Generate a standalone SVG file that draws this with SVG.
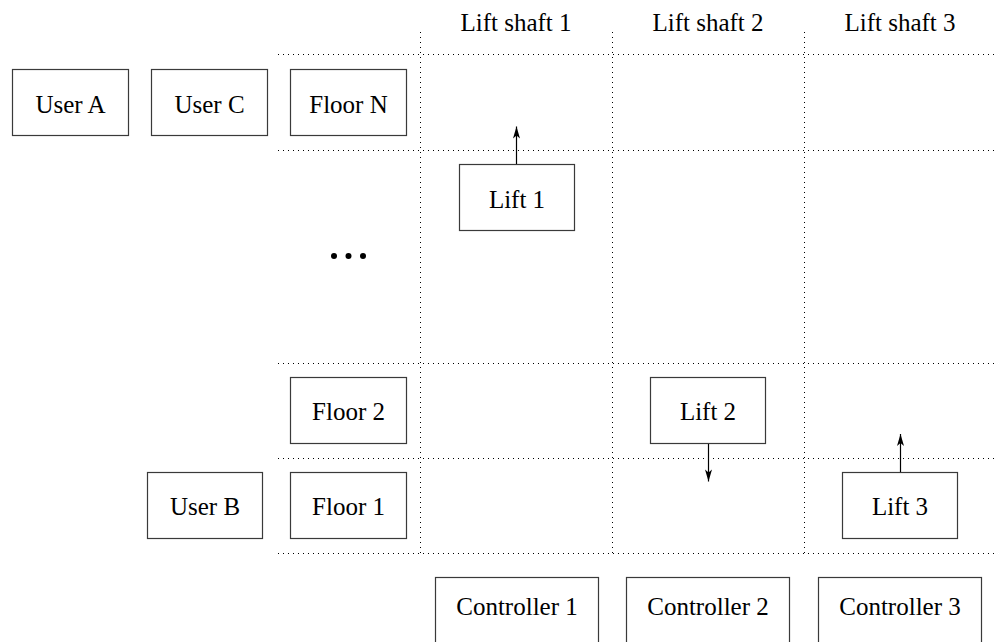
<svg xmlns="http://www.w3.org/2000/svg" width="994" height="642" viewBox="0 0 994 642">
<style>
.box{fill:#fff;stroke:#3a3a3a;stroke-width:1.2}
text{font-family:'Liberation Serif','Times New Roman',Times,serif;font-size:25px;fill:#000;text-anchor:middle}
.grid{stroke:#000;stroke-width:1;stroke-dasharray:1 4;fill:none}
.conn{stroke:#000;stroke-width:1.2;fill:none;marker-end:url(#ah)}
</style>
<defs>
<marker id="ah" markerUnits="userSpaceOnUse" markerWidth="14" markerHeight="8" viewBox="-13 -4 14 8" refX="0" refY="0" orient="auto">
<path d="M0,0 L-12,-3.5 L-9,0 L-12,3.5 Z" fill="#000"/>
</marker>
</defs>
<rect width="994" height="642" fill="#fff"/>
<g id="grid">
<line class="grid" x1="420.5" y1="32" x2="420.5" y2="553"/>
<line class="grid" x1="612.5" y1="32" x2="612.5" y2="553"/>
<line class="grid" x1="804.5" y1="32" x2="804.5" y2="553"/>
<line class="grid" x1="278" y1="54.5" x2="994" y2="54.5"/>
<line class="grid" x1="278" y1="150.5" x2="994" y2="150.5"/>
<line class="grid" x1="278" y1="363.5" x2="994" y2="363.5"/>
<line class="grid" x1="278" y1="458.5" x2="994" y2="458.5"/>
<line class="grid" x1="278" y1="553.5" x2="994" y2="553.5"/>
</g>
<g id="labels">
<text x="516" y="31">Lift shaft 1</text>
<text x="708" y="31">Lift shaft 2</text>
<text x="900" y="31">Lift shaft 3</text>
</g>
<g id="ellipsis">
<circle cx="334" cy="256" r="3" fill="#000"/>
<circle cx="348.5" cy="256" r="3" fill="#000"/>
<circle cx="363" cy="256" r="3" fill="#000"/>
</g>
<g id="userA"><rect class="box" x="12.5" y="69.5" width="116" height="66"/><text x="70.5" y="113">User A</text></g>
<g id="userC"><rect class="box" x="151.5" y="69.5" width="116" height="66"/><text x="209.5" y="113">User C</text></g>
<g id="floorN"><rect class="box" x="290.5" y="69.5" width="116" height="66"/><text x="348.5" y="113">Floor N</text></g>
<g id="lift1"><rect class="box" x="459.5" y="164.5" width="115" height="66"/><text x="517" y="208">Lift 1</text></g>
<g id="floor2"><rect class="box" x="290.5" y="377.5" width="116" height="66"/><text x="348.5" y="420">Floor 2</text></g>
<g id="lift2"><rect class="box" x="650.5" y="377.5" width="115" height="66"/><text x="708" y="420">Lift 2</text></g>
<g id="userB"><rect class="box" x="147.5" y="472.5" width="115" height="66"/><text x="205" y="515">User B</text></g>
<g id="floor1"><rect class="box" x="290.5" y="472.5" width="116" height="66"/><text x="348.5" y="515">Floor 1</text></g>
<g id="lift3"><rect class="box" x="842.5" y="472.5" width="115" height="66"/><text x="900" y="515">Lift 3</text></g>
<g id="controller1"><rect class="box" x="435.5" y="577.5" width="163" height="80"/><text x="517" y="615">Controller 1</text></g>
<g id="controller2"><rect class="box" x="626.5" y="577.5" width="163" height="80"/><text x="708" y="615">Controller 2</text></g>
<g id="controller3"><rect class="box" x="818.5" y="577.5" width="163" height="80"/><text x="900" y="615">Controller 3</text></g>
<g id="connectors">
<line class="conn" x1="516.5" y1="164" x2="516.5" y2="126.5"/>
<line class="conn" x1="708.5" y1="444" x2="708.5" y2="481.5"/>
<line class="conn" x1="900.5" y1="472" x2="900.5" y2="434"/>
</g>
</svg>
